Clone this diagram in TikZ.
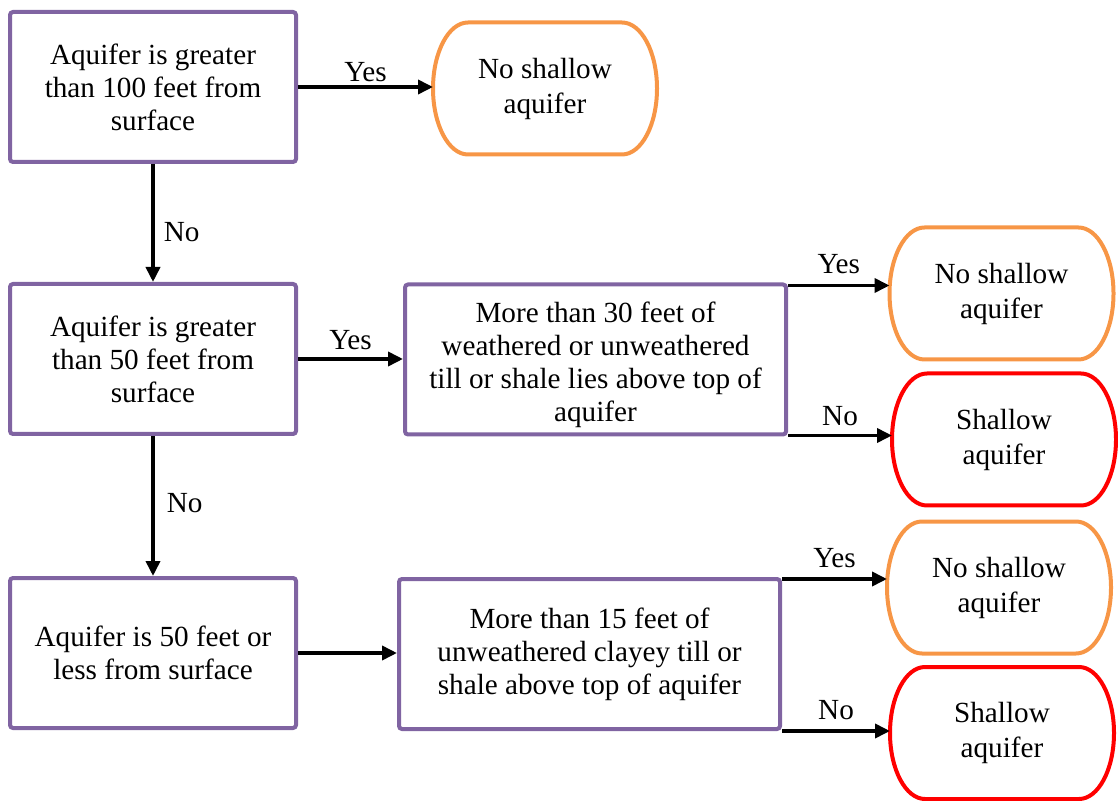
\documentclass[tikz,border=0pt]{standalone}
\usepackage{fontspec}
\setmainfont{Liberation Serif}
\usetikzlibrary{arrows.meta,positioning}
\definecolor{flowInk}{HTML}{000000}
\definecolor{flowPurple}{HTML}{8064A2}
\definecolor{flowOrange}{HTML}{F79646}
\definecolor{flowRed}{HTML}{FF0000}
\newcommand\termrx{17.5pt}
\newcommand\termry{33pt}
\newcommand\termframe[2]{%
  \draw[flow frame, draw=#2]
    ([xshift=-\termrx]#1.north east) -- ([xshift=\termrx]#1.north west)
    arc[start angle=90, end angle=270, x radius=\termrx, y radius=\termry]
    -- ([xshift=-\termrx]#1.south east)
    arc[start angle=-90, end angle=90, x radius=\termrx, y radius=\termry]
    -- cycle;}
\tikzset{
  every picture/.style={font={\fontsize{14.6}{16.5}\selectfont}, text=flowInk},
  flow box/.style={draw=flowPurple, line width=2pt, rounded corners=1.5pt,
    fill=white, align=center, minimum width=143pt, minimum height=75pt,
    inner sep=2pt},
  flow check/.style={flow box, minimum width=190.5pt},
  flow end/.style={align=center, inner sep=0pt, outer sep=0pt,
    font={\fontsize{14.6}{17.5}\selectfont},
    minimum width=112pt, minimum height=66pt},
  flow frame/.style={line width=2pt},
  flow arrow/.style={-{Triangle[length=7.5pt,width=7pt]},
    draw=flowInk, line width=1.8pt},
  flow label/.style={inner sep=0pt}
}

\begin{document}
\begin{tikzpicture}[x=0.5pt,y=-0.5pt]
  \useasboundingbox (0,0) rectangle (1118,801);
  \node[flow box] (a1) at (153,87) {Aquifer is greater\\than 100 feet from\\surface};
  \node[flow box] (a2) at (153,359) {Aquifer is greater\\than 50 feet from\\surface};
  \node[flow box] (a3) at (153,653) {Aquifer is 50 feet or\\less from surface};
  \node[flow check] (d2) at (595.5,359.5)
    {\rule{0pt}{16pt}More than 30 feet of\\weathered or unweathered\\till or shale lies above top of\\aquifer};
  \node[flow check] (d3) at (589.5,654)
    {More than 15 feet of\\unweathered clayey till or\\shale above top of aquifer};
  \node[flow end] (t1) at (545,88.5) {No shallow\\aquifer};
  \node[flow end] (t2) at (1001.5,293.5) {No shallow\\aquifer};
  \node[flow end] (s2) at (1004,439.5) {Shallow\\aquifer};
  \node[flow end] (t3) at (999,587.5) {No shallow\\aquifer};
  \node[flow end] (s3) at (1002,733) {Shallow\\aquifer};
  \termframe{t1}{flowOrange}
  \termframe{t2}{flowOrange}
  \termframe{s2}{flowRed}
  \termframe{t3}{flowOrange}
  \termframe{s3}{flowRed}

  \coordinate (d2yes) at ([yshift=-1.5pt]d2.north east);
  \coordinate (d2no) at ([yshift=0.5pt]d2.south east);
  \coordinate (d3yes) at ([yshift=-1pt]d3.north east);
  \coordinate (d3no) at (d3.south east);

  \draw[flow arrow] (a1.east) -- node[flow label, above=1.5pt] (yes1) {Yes} (a1.east -| t1.west);
  \draw[flow arrow] (a1.south) -- node[flow label, right=4.5pt, pos=0.58] (no1) {No} (a2.north);
  \draw[flow arrow] (a2.east) -- node[flow label, above=3.5pt] (yes2) {Yes} (a2.east -| d2.west);
  \draw[flow arrow] (a2.south) -- node[flow label, right=6pt, pos=0.48] (no2) {No} (a3.north);
  \draw[flow arrow] (a3.east) -- (a3.east -| d3.west);
  \draw[flow arrow] (d2yes) -- node[flow label, above=5pt] (yes3) {Yes} (d2yes -| t2.west);
  \draw[flow arrow] (d2no) -- node[flow label, above=4pt] (no3) {No} (d2no -| s2.west);
  \draw[flow arrow] (d3yes) -- node[flow label, above=4.5pt] (yes4) {Yes} (d3yes -| t3.west);
  \draw[flow arrow] (d3no) -- node[flow label, above=4.5pt] (no4) {No} (d3no -| s3.west);
\end{tikzpicture}
\end{document}
